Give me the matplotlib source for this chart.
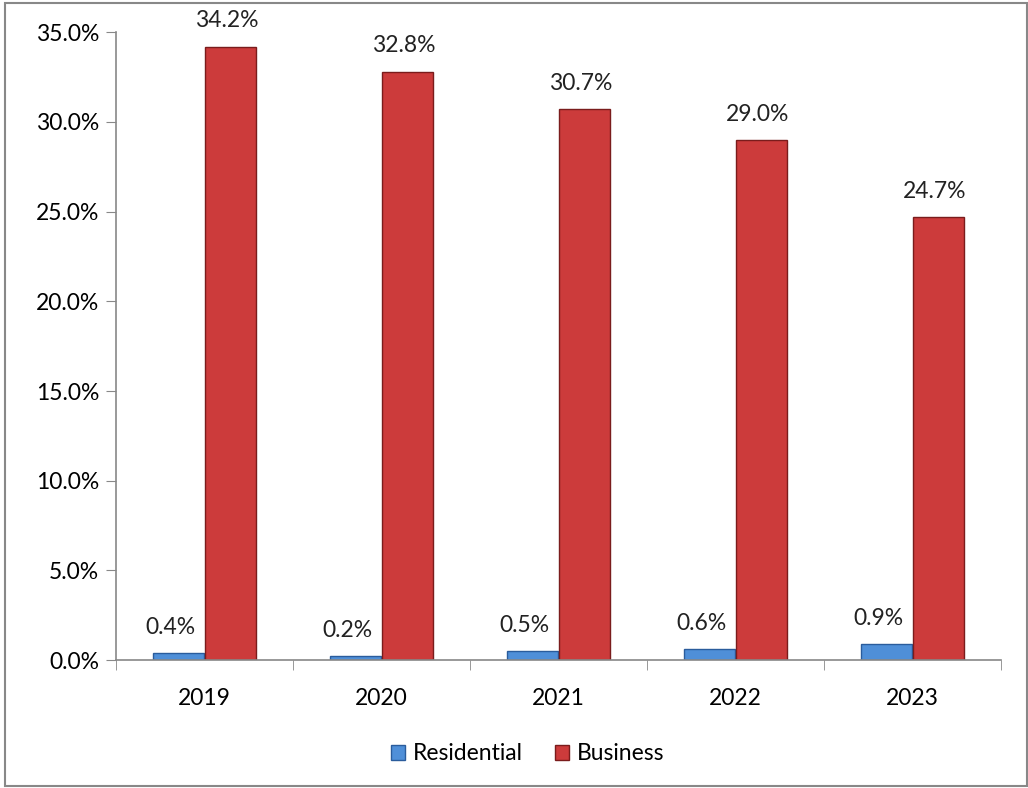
import numpy as np
import matplotlib.pyplot as plt
from matplotlib.patches import Rectangle

years = ['2019', '2020', '2021', '2022', '2023']
residential = [0.4, 0.2, 0.5, 0.6, 0.9]
business = [34.2, 32.8, 30.7, 29.0, 24.7]

plt.rcParams['font.family'] = ['Lato', 'DejaVu Sans']

fig = plt.figure(figsize=(10.28, 7.88), dpi=100)
ax = fig.add_axes([0.1128, 0.1624, 0.8612, 0.7966])

x = np.arange(len(years))
w = 0.29
bars_r = ax.bar(x - 0.147, residential, width=w, color='#4f8fd8', edgecolor='#2a5c9c',
                linewidth=1.0, label='Residential')
bars_b = ax.bar(x + 0.147, business, width=w, color='#cc3b3b', edgecolor='#7a1c1c',
                linewidth=1.0, label='Business')

# value labels sit a little to the left of each bar, as in the original
for bars, vals, dx in [(bars_r, residential, -6), (bars_b, business, -3)]:
    for b, v in zip(bars, vals):
        ax.annotate(f'{v:.1f}%', (b.get_x() + b.get_width() / 2, v),
                    xytext=(dx, 11), textcoords='offset points',
                    ha='center', va='bottom', fontsize=16.5, color='#222222')

ax.set_xlim(-0.5, len(years) - 0.5)
ax.set_ylim(0, 35)
ax.set_yticks(np.arange(0, 35.1, 5))
ax.set_yticklabels([f'{t:.1f}%' for t in np.arange(0, 35.1, 5)])
ax.set_xticks(x)
ax.set_xticklabels(years)
ax.set_xticks(np.arange(-0.5, len(years)), minor=True)
ax.tick_params(axis='x', which='major', length=0, pad=20, labelsize=16.5)
ax.tick_params(axis='x', which='minor', length=7, color='#888888', direction='out')
ax.tick_params(axis='y', length=7, color='#888888', labelsize=16.5, pad=5)

for s in ['top', 'right']:
    ax.spines[s].set_visible(False)
for s in ['left', 'bottom']:
    ax.spines[s].set_color('#888888')
    ax.spines[s].set_linewidth(1.2)

ax.legend(loc='upper center', bbox_to_anchor=(0.465, -0.1), ncol=2, frameon=False,
          fontsize=16.5, handlelength=0.6, handleheight=0.6, handletextpad=0.35,
          columnspacing=1.4)

fig.patches.append(Rectangle((0.005, 0.003), 0.994, 0.993, transform=fig.transFigure,
                             fill=False, edgecolor='#888888', linewidth=1.5))

plt.savefig('out.png', dpi=100)
